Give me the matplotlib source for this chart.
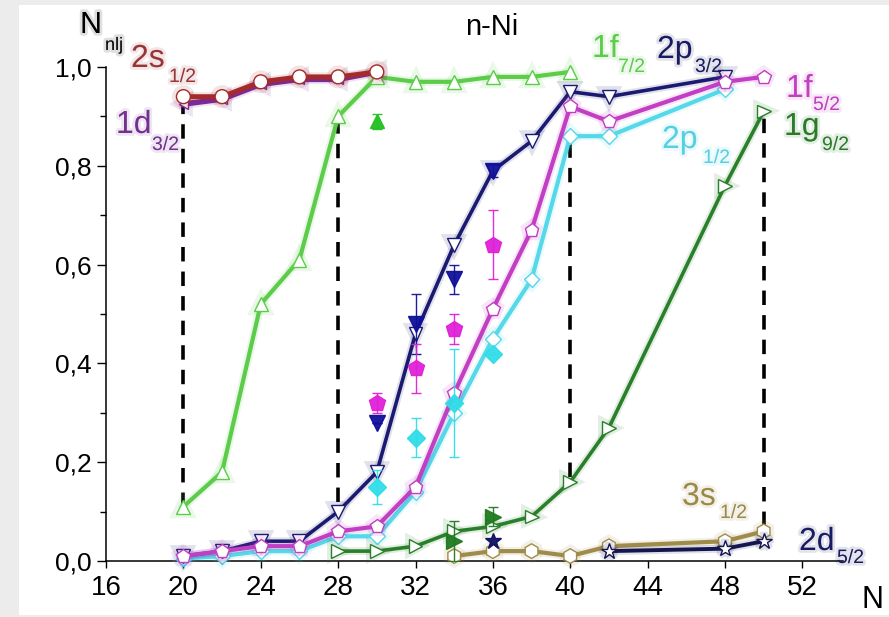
import matplotlib
matplotlib.use("Agg")
import matplotlib.pyplot as plt
import matplotlib.patheffects as pe
from matplotlib.patches import Rectangle
from matplotlib.ticker import FixedLocator, MultipleLocator, FuncFormatter

plt.rcParams['font.family'] = ['Liberation Sans', 'DejaVu Sans']

# calculated occupation numbers (open symbols + lines)
N_2s = [20, 22, 24, 26, 28, 30]
v_2s = [0.94, 0.94, 0.97, 0.98, 0.98, 0.99]
N_1d = [20, 22, 24, 26, 28, 30]
v_1d = [0.925, 0.935, 0.965, 0.975, 0.975, 0.99]
N_1f7 = [20, 22, 24, 26, 28, 30, 32, 34, 36, 38, 40]
v_1f7 = [0.11, 0.18, 0.52, 0.61, 0.90, 0.98, 0.97, 0.97, 0.98, 0.98, 0.99]
N_2p3 = [20, 22, 24, 26, 28, 30, 32, 34, 36, 38, 40, 42, 48]
v_2p3 = [0.01, 0.02, 0.04, 0.04, 0.10, 0.18, 0.46, 0.64, 0.79, 0.85, 0.95, 0.94, 0.98]
N_1f5 = [20, 22, 24, 26, 28, 30, 32, 34, 36, 38, 40, 42, 48, 50]
v_1f5 = [0.01, 0.02, 0.03, 0.03, 0.06, 0.07, 0.15, 0.34, 0.51, 0.67, 0.92, 0.89, 0.97, 0.98]
N_2p1 = [20, 22, 24, 26, 28, 30, 32, 34, 36, 38, 40, 42, 48]
v_2p1 = [0.005, 0.01, 0.02, 0.02, 0.05, 0.05, 0.14, 0.30, 0.45, 0.57, 0.86, 0.86, 0.955]
N_1g9 = [28, 30, 32, 34, 36, 38, 40, 42, 48, 50]
v_1g9 = [0.02, 0.02, 0.03, 0.06, 0.07, 0.09, 0.16, 0.27, 0.76, 0.91]
N_3s = [34, 36, 38, 40, 42, 48, 50]
v_3s = [0.01, 0.02, 0.02, 0.01, 0.03, 0.04, 0.06]
N_2d = [42, 48, 50]
v_2d = [0.02, 0.025, 0.04]

# experimental values (filled symbols)
xN_1f7 = [30]
x_1f7 = [0.89]
e_1f7 = [0.015]
xN_2p3 = [30, 32, 34, 36]
x_2p3 = [0.28, 0.48, 0.57, 0.79]
e_2p3 = [0.0, 0.06, 0.03, 0.012]
xN_1f5 = [30, 32, 34, 36]
x_1f5 = [0.32, 0.39, 0.47, 0.64]
e_1f5 = [0.02, 0.05, 0.03, 0.07]
xN_2p1 = [30, 32, 34, 36]
x_2p1 = [0.15, 0.25, 0.32, 0.42]
e_2p1 = [0.035, 0.04, 0.11, 0.0]
xN_1g9 = [34, 36]
x_1g9 = [0.04, 0.09]
e_1g9 = [0.04, 0.02]
xN_2d = [36]
x_2d = [0.04]

# magic-number guide lines
magic_N = [20, 28, 40, 50]
magic_lo = [0.11, 0.12, 0.17, 0.07]
magic_hi = [0.93, 0.89, 0.86, 0.90]

W, H = 889, 617
fig = plt.figure(figsize=(W / 100, H / 100), dpi=100, facecolor='#ececec')
fig.patches.append(Rectangle((19 / W, 2 / H), 1, 610 / H, transform=fig.transFigure,
                             facecolor='white', edgecolor='none', zorder=-10))
ax = fig.add_axes([106 / W, 56 / H, 737 / W, 494 / H])
ax.set_facecolor('none')


def glow(c, w):
    return [pe.Stroke(linewidth=w, foreground=c, alpha=0.13), pe.Normal()]


def curve(x, y, c, m, ms, lw=3.0, z=3):
    ax.plot(x, y, color=c, lw=lw, marker=m, ms=ms, mfc='white', mec=c, mew=1.0,
            zorder=z, clip_on=False, path_effects=glow(c, lw + 3))


def exp(x, y, e, c, m, ms, z=6):
    ax.errorbar(x, y, yerr=e, fmt=m, color=c, ms=ms, mec=c, elinewidth=1.0,
                capsize=3.5, capthick=1.0, zorder=z, alpha=0.95)


for xm, lo, hi in zip(magic_N, magic_lo, magic_hi):
    ax.plot([xm, xm], [lo, hi], color='black', lw=2.6, ls=(0, (4, 2.8)), zorder=2)

curve(N_1f7, v_1f7, '#5ccc4a', '^', 10, z=3)
curve(N_1d, v_1d, '#7a2a9a', '<', 7, lw=4, z=4)
curve(N_2s, v_2s, '#a52a2a', 'o', 10, lw=3.5, z=5)
curve(N_2p1, v_2p1, '#55d8e8', 'D', 8, z=3)
curve(N_2p3, v_2p3, '#1a1a70', 'v', 10, lw=2.6, z=4)
curve(N_1f5, v_1f5, '#c23ec2', 'p', 10.5, z=5)
curve(N_1g9, v_1g9, '#2a7f2a', '>', 10, lw=2.6, z=3)
curve(N_3s, v_3s, '#a08c4a', 'h', 10.5, z=3)
curve(N_2d, v_2d, '#151550', '*', 12, lw=2.8, z=4)

exp(xN_1f7, x_1f7, e_1f7, '#22c022', '^', 10)
exp(xN_2p3, x_2p3, e_2p3, '#10109a', 'v', 11)
exp(xN_1f5, x_1f5, e_1f5, '#e020d8', 'p', 12)
exp(xN_2p1, x_2p1, e_2p1, '#30dde8', 'D', 9)
exp(xN_1g9, x_1g9, e_1g9, '#1f7a1f', '>', 11)
exp(xN_2d, x_2d, None, '#101060', '*', 12)

ax.set_xlim(16, 54.1)
ax.set_ylim(0, 1.0)
ax.xaxis.set_major_locator(FixedLocator([16, 20, 24, 28, 32, 36, 40, 44, 48, 52]))
ax.yaxis.set_major_locator(MultipleLocator(0.2))
ax.yaxis.set_minor_locator(MultipleLocator(0.1))
ax.yaxis.set_major_formatter(FuncFormatter(lambda v, p: ('%.1f' % v).replace('.', ',')))
for s in ['top', 'right']:
    ax.spines[s].set_visible(False)
for s in ['left', 'bottom']:
    ax.spines[s].set_linewidth(1.1)
ax.tick_params(axis='y', which='major', direction='out', length=6.5, width=1.0, labelsize=19, pad=4)
ax.tick_params(axis='y', which='minor', direction='out', length=4.5, width=1.0)
ax.tick_params(axis='x', which='major', direction='out', length=5, width=1.0, labelsize=20, pad=5)


def label(px, py, main, sub, c, sx, sy, fs=23, sfs=14):
    eff = [pe.withStroke(linewidth=4, foreground=c, alpha=0.12)]
    fig.text(px / W, 1 - py / H, main, color=c, fontsize=fs, va='baseline', path_effects=eff)
    if sub:
        fig.text(sx / W, 1 - sy / H, sub, color=c, fontsize=sfs, va='baseline', path_effects=eff)


label(80, 33, 'N', 'nlj', 'black', 105, 50, fs=22, sfs=13)
label(131, 67, '2s', '1/2', '#9a3535', 169, 82)
label(116, 133, '1d', '3/2', '#73308f', 152, 150)
label(592, 57, '1f', '7/2', '#5ccc4a', 618, 72)
label(657, 58, '2p', '3/2', '#1a1a60', 695, 72)
label(786, 97, '1f', '5/2', '#c040c0', 813, 110)
label(784, 135, '1g', '9/2', '#2a7a2a', 822, 150)
label(662, 148, '2p', '1/2', '#55d0e0', 703, 163)
label(682, 505, '3s', '1/2', '#9a8a45', 720, 518)
label(799, 550, '2d', '5/2', '#1a1a60', 837, 563)
fig.text(465 / W, 1 - 35 / H, 'n-Ni', fontsize=21, va='baseline')
fig.text(861 / W, 1 - 608 / H, 'N', fontsize=22, va='baseline')

fig.savefig('out.png', dpi=100, facecolor=fig.get_facecolor())
